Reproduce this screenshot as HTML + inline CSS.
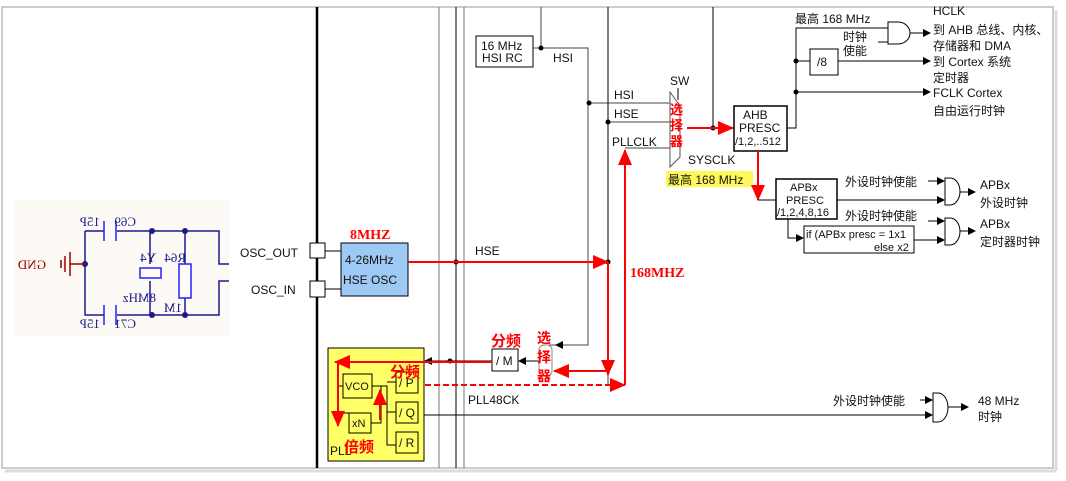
<!DOCTYPE html>
<html><head><meta charset="utf-8"><style>
body{margin:0;background:#fff;width:1066px;height:481px;overflow:hidden}
svg{display:block}
text{font-family:"Liberation Sans","Noto Sans CJK SC",sans-serif;font-size:12px;fill:#111}
.r{fill:#f00;font-weight:bold;font-family:"Liberation Sans","Noto Sans CJK SC",sans-serif}
.rs{fill:#f00;font-weight:bold;font-family:"Liberation Serif",serif}
.s{font-size:11px}
.c{font-family:"Liberation Serif",serif;fill:#1a1a8c;font-size:13px}
</style></head><body>
<svg width="1066" height="481" viewBox="0 0 1066 481">
<defs>
<marker id="a" markerWidth="8" markerHeight="8" refX="7" refY="4" orient="auto" markerUnits="userSpaceOnUse"><path d="M0,0L8,4L0,8z" fill="#000"/></marker>
<marker id="ra" markerWidth="16" markerHeight="14" refX="15" refY="7" orient="auto" markerUnits="userSpaceOnUse"><path d="M0,0L16,7L0,14z" fill="#f00"/></marker>
</defs>
<rect x="0" y="0" width="1066" height="481" fill="#fff"/>
<rect x="2" y="7" width="1051" height="461" fill="#fff" stroke="#bbb" stroke-width="1.5"/>
<line x1="1056" y1="10" x2="1056" y2="471" stroke="#ddd" stroke-width="3"/>
<line x1="5" y1="471" x2="1056" y2="471" stroke="#ddd" stroke-width="3"/>

<!-- circuit -->
<rect x="13" y="200" width="216" height="136" fill="#fdfaf5"/>
<g stroke="#1a1a8c" stroke-width="1.5" fill="none">
<path d="M85,231H104M117,231H219V264H229M85,231V315H104M117,315H219V281H229"/>
<path d="M104,221V241M116,221V241M104,305V325M116,305V325" stroke="#22f"/>
<rect x="140" y="268" width="21" height="10" stroke="#22f"/>
<path d="M150,231V264M150,281V315M185,231V264M185,298V315"/>
<rect x="179" y="264" width="12" height="34" stroke="#22f"/>
</g>
<g fill="#1a1a8c"><circle cx="85" cy="264" r="3"/><circle cx="152" cy="231" r="3"/><circle cx="185" cy="231" r="3"/><circle cx="152" cy="315" r="3"/><circle cx="185" cy="315" r="3"/></g>
<path d="M85,264H70M70,252V276M65,256V272M61,260V268" stroke="#900" stroke-width="1.5"/>
<g transform="translate(246,0) scale(-1,1)">
<text x="200" y="269" class="c" style="fill:#900">GND</text>
<text x="110" y="226" class="c">C69</text><text x="146" y="226" class="c">15P</text>
<text x="110" y="328" class="c">C71</text><text x="146" y="328" class="c">15P</text>
<text x="90" y="262" class="c">Y4</text><text x="60" y="262" class="c">R64</text>
<text x="90" y="302" class="c">8MHz</text>
<text x="64" y="312" class="c">1M</text>
</g>

<!-- main lines -->
<line x1="317" y1="7" x2="317" y2="468" stroke="#000" stroke-width="2.5"/>
<line x1="439" y1="7" x2="439" y2="468" stroke="#777"/>
<line x1="456" y1="7" x2="456" y2="468" stroke="#000"/>
<line x1="464" y1="7" x2="464" y2="468" stroke="#777"/>
<text x="240" y="257">OSC_OUT</text><text x="251" y="294">OSC_IN</text>
<rect x="310" y="243" width="15" height="15" fill="#fff" stroke="#000"/>
<rect x="310" y="281" width="15" height="16" fill="#fff" stroke="#000"/>
<path d="M325,251H341M325,289H341" stroke="#000"/>
<rect x="341" y="243" width="67" height="53" fill="#9ec9f5" stroke="#000"/>
<text x="345" y="264">4-26MHz</text><text x="343" y="284">HSE OSC</text>
<text class="rs" x="350" y="239" style="font-size:14px">8MHZ</text>

<!-- HSI -->
<rect x="476" y="36" width="57" height="31" fill="#fff" stroke="#000"/>
<text x="481" y="50">16 MHz</text><text x="482" y="62">HSI RC</text>
<path d="M541,7V48M533,48H588V345H549" stroke="#444" fill="none"/>
<path d="M588,345H556" stroke="#444" marker-end="url(#a)"/>
<text x="553" y="62">HSI</text>
<path d="M589,103H670M608,7V385M608,122H670M625,148H670" stroke="#444" fill="none"/>
<line x1="608" y1="7" x2="608" y2="262" stroke="#000"/>
<text x="614" y="99">HSI</text><text x="614" y="118">HSE</text><text x="612" y="146">PLLCLK</text>
<g fill="#000"><circle cx="541" cy="48" r="2.5"/><circle cx="589" cy="103" r="2.5"/><circle cx="608" cy="122" r="2.5"/><circle cx="456" cy="262" r="2.5"/><circle cx="608" cy="262" r="2.5"/><circle cx="450" cy="361" r="2.5"/><circle cx="419" cy="385" r="2.5"/><circle cx="713" cy="128" r="2.5"/><circle cx="796" cy="61" r="2.5"/><circle cx="796" cy="92" r="2.5"/></g>
<line x1="408" y1="262" x2="608" y2="262" stroke="#f00" stroke-width="2" marker-end="url(#ra)"/>
<text x="475" y="255">HSE</text>
<text class="rs" x="630" y="277" style="font-size:14px">168MHZ</text>
<line x1="625" y1="385" x2="625" y2="150" stroke="#f00" stroke-width="2" marker-end="url(#ra)"/>
<line x1="608" y1="262" x2="608" y2="375" stroke="#f00" stroke-width="2" marker-end="url(#ra)"/>
<line x1="607" y1="371" x2="554" y2="371" stroke="#f00" stroke-width="2" marker-end="url(#ra)"/>
<line x1="380" y1="385" x2="625" y2="385" stroke="#f00" stroke-width="2" stroke-dasharray="6,3" marker-end="url(#ra)"/>

<!-- switch -->
<path d="M670,92L680,106V157L670,167Z" fill="#fff" stroke="#555"/>
<line x1="678" y1="88" x2="678" y2="100" stroke="#000"/>
<text x="670" y="85">SW</text>
<text class="r" x="670" y="114" style="font-size:13px">选</text><text class="r" x="670" y="130" style="font-size:13px">择</text><text class="r" x="670" y="146" style="font-size:13px">器</text>
<text x="688" y="164">SYSCLK</text>
<rect x="666" y="171" width="87" height="16" fill="#fff85a"/>
<text x="668" y="184">最高 168 MHz</text>
<line x1="713" y1="7" x2="713" y2="128" stroke="#000"/>
<line x1="687" y1="128" x2="733" y2="128" stroke="#f00" stroke-width="2" marker-end="url(#ra)"/>
<rect x="734" y="106" width="53" height="45" fill="#fff" stroke="#000" stroke-width="1.5"/>
<text x="743" y="119">AHB</text><text x="739" y="132">PRESC</text><text class="s" x="735" y="145">/1,2,..512</text>
<line x1="758" y1="151" x2="758" y2="200" stroke="#f00" stroke-width="2" marker-end="url(#ra)"/>
<path d="M758,200H776" stroke="#000"/>
<path d="M787,128H796V28H888" stroke="#000" fill="none"/>
<text x="795" y="23">最高 168 MHz</text>
<text x="843" y="41">时钟</text><text x="843" y="55">使能</text>
<path d="M878,42H888" stroke="#000"/>
<path d="M888,22H898A12,11 0 0 1 898,44H888Z" fill="#fff" stroke="#000"/>
<path d="M910,33H930" stroke="#000" marker-end="url(#a)"/>
<text x="933" y="15">HCLK</text><text x="933" y="34">到 AHB 总线、内核、</text><text x="933" y="50">存储器和 DMA</text>
<path d="M796,61H810" stroke="#000"/>
<rect x="810" y="49" width="28" height="26" fill="#fff" stroke="#000"/><text x="817" y="66">/8</text>
<path d="M838,61H930" stroke="#000" marker-end="url(#a)"/>
<text x="933" y="66">到 Cortex 系统</text><text x="933" y="82">定时器</text>
<path d="M796,92H930" stroke="#000" marker-end="url(#a)"/>
<text x="933" y="97">FCLK Cortex</text><text x="933" y="115">自由运行时钟</text>

<!-- APB -->
<rect x="776" y="179" width="61" height="40" fill="#fff" stroke="#000" stroke-width="1.5"/>
<text x="790" y="191" class="s">APBx</text><text x="786" y="204" class="s">PRESC</text><text x="777" y="216" class="s">/1,2,4,8,16</text>
<text x="845" y="186">外设时钟使能</text>
<path d="M928,181H944" stroke="#000" marker-end="url(#a)"/>
<path d="M837,200H944" stroke="#000" marker-end="url(#a)"/>
<path d="M945,178H950A10,13.5 0 0 1 950,205H945Z" fill="#fff" stroke="#000"/>
<path d="M960,192H975" stroke="#000" marker-end="url(#a)"/>
<text x="980" y="189">APBx</text><text x="980" y="207">外设时钟</text>
<text x="845" y="220">外设时钟使能</text>
<path d="M928,221H944" stroke="#000" marker-end="url(#a)"/>
<path d="M788,219V238H803" stroke="#000" fill="none" marker-end="url(#a)"/>
<rect x="804" y="226" width="110" height="27" fill="#fff" stroke="#000"/>
<text x="806" y="238" class="s">if (APBx presc = 1x1</text><text x="874" y="251" class="s">else x2</text>
<path d="M914,240H944" stroke="#000" marker-end="url(#a)"/>
<path d="M945,218H950A10,13.5 0 0 1 950,245H945Z" fill="#fff" stroke="#000"/>
<path d="M960,231H975" stroke="#000" marker-end="url(#a)"/>
<text x="980" y="228">APBx</text><text x="980" y="246">定时器时钟</text>

<!-- 48MHz -->
<text x="833" y="405">外设时钟使能</text>
<path d="M920,400H932" stroke="#000" marker-end="url(#a)"/>
<path d="M420,415H932" stroke="#000" marker-end="url(#a)"/>
<path d="M933,393H938A10,14.5 0 0 1 938,422H933Z" fill="#fff" stroke="#000"/>
<path d="M948,407H968" stroke="#000" marker-end="url(#a)"/>
<text x="978" y="405">48 MHz</text><text x="978" y="421">时钟</text>
<text x="468" y="404">PLL48CK</text>

<!-- PLL -->
<rect x="328" y="348" width="96" height="113" fill="#ffff66" stroke="#000"/>
<path d="M338,362V413H349M338,386H343M372,386H387V445H396M387,382H396M387,412H396M381,386V423H371" stroke="#000" fill="none"/>
<rect x="343" y="374" width="29" height="24" fill="#ffff66" stroke="#000"/><text x="345" y="390" class="s">VCO</text>
<rect x="349" y="413" width="22" height="20" fill="#ffff66" stroke="#000"/><text x="352" y="427" class="s">xN</text>
<rect x="396" y="372" width="22" height="21" fill="#ffff66" stroke="#000"/><text x="399" y="387">/ P</text>
<rect x="396" y="402" width="22" height="21" fill="#ffff66" stroke="#000"/><text x="399" y="417">/ Q</text>
<rect x="396" y="432" width="22" height="21" fill="#ffff66" stroke="#000"/><text x="399" y="447">/ R</text>
<text x="330" y="455">PLL</text>
<path d="M492,361H425" stroke="#000" marker-end="url(#a)"/>
<rect x="492" y="349" width="26" height="22" fill="#fff" stroke="#000"/><text x="496" y="365">/ M</text>
<path d="M540,361H519" stroke="#000" marker-end="url(#a)"/>
<rect x="539" y="345" width="13" height="31" rx="5" fill="#fff" stroke="#888"/>
<line x1="492" y1="362" x2="335" y2="362" stroke="#f00" stroke-width="2" marker-end="url(#ra)"/>
<line x1="338" y1="362" x2="338" y2="426" stroke="#f00" stroke-width="2" marker-end="url(#ra)"/>
<line x1="380" y1="420" x2="380" y2="390" stroke="#f00" stroke-width="2" marker-end="url(#ra)"/>
<text class="r" x="491" y="346" style="font-size:15px">分频</text>
<text class="r" x="390" y="377" style="font-size:15px">分频</text>
<text class="r" x="344" y="452" style="font-size:15px">倍频</text>
<text class="r" x="537" y="343" style="font-size:14px">选</text><text class="r" x="537" y="362" style="font-size:14px">择</text><text class="r" x="537" y="381" style="font-size:14px">器</text>
</svg>
</body></html>
